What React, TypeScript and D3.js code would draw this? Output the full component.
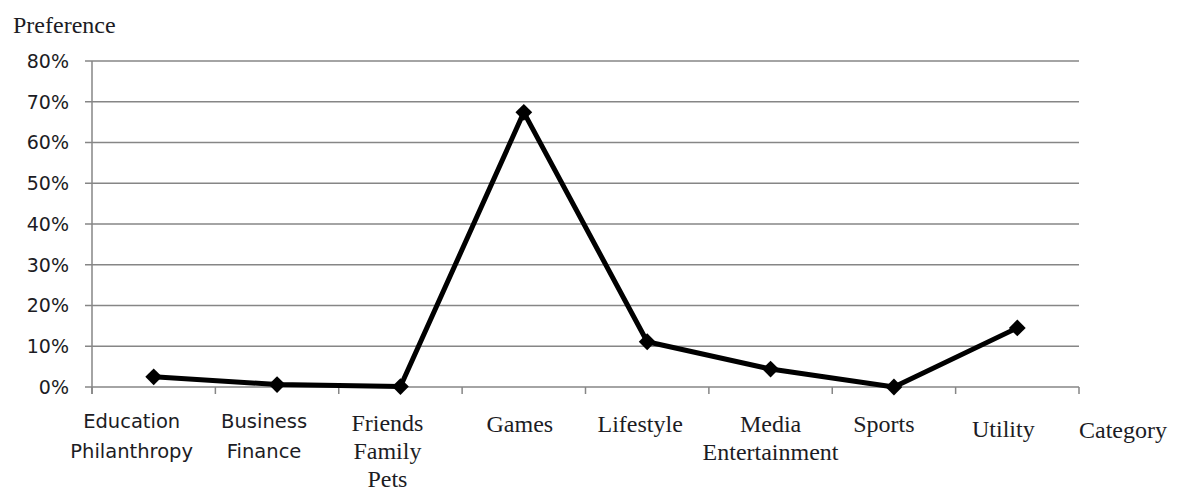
import React from "react";
import * as d3 from "d3";

const categories = [
  "Education Philanthropy",
  "Business Finance",
  "Friends Family Pets",
  "Games",
  "Lifestyle",
  "Media Entertainment",
  "Sports",
  "Utility",
];
const labelLines = [
  ["Education", "Philanthropy"],
  ["Business", "Finance"],
  ["Friends", "Family", "Pets"],
  ["Games"],
  ["Lifestyle"],
  ["Media", "Entertainment"],
  ["Sports"],
  ["Utility"],
];
const values = [2.5, 0.6, 0.1, 67.4, 11.1, 4.4, 0.0, 14.5];
const yTicks = [0, 10, 20, 30, 40, 50, 60, 70, 80];
const yTitle = "Preference";
const xTitle = "Category";

// layout / style (not data)
const W = 1181;
const H = 493;
const left = 92;
const right = 1079;
const top = 61;
const bottom = 387;
const sansLabel = [true, true, false, false, false, false, false, false];
const labelDx = [-22, -13, -13, -4, -7, 0, -10, -14];
const labelDy = [0, 0, -1, 0, 0, 0, 0, 5];

export default function App() {
  const x = d3.scaleBand<string>().domain(categories).range([left, right]);
  const y = d3.scaleLinear().domain([0, 80]).range([bottom, top]);
  const cx = (c: string) => (x(c) as number) + x.bandwidth() / 2;
  const line = d3
    .line<number>()
    .x((_, i) => cx(categories[i]))
    .y((v) => y(v));
  const diamond = d3.symbol().type(d3.symbolDiamond2).size(180)();
  const grid = "#868686";
  const textColor = "#1c1c24";
  const edges = categories.map((c) => x(c) as number).concat([right]);

  return (
    <svg
      width={W}
      height={H}
      style={{ position: "absolute", left: 0, top: 0, background: "#fff" }}
    >
      <rect x={0} y={0} width={W} height={H} fill="#fff" />
      {yTicks.map((t) => (
        <g key={t}>
          <line x1={left - 7} x2={right} y1={y(t)} y2={y(t)} stroke={grid} strokeWidth={1.5} />
          <text
            x={69}
            y={y(t)}
            dy="0.36em"
            textAnchor="end"
            fontFamily="DejaVu Sans"
            fontSize={19}
            fill={textColor}
          >
            {t}%
          </text>
        </g>
      ))}
      <line x1={left} x2={left} y1={top} y2={bottom + 7} stroke={grid} strokeWidth={1.5} />
      {edges.map((e, i) => (
        <line key={i} x1={e} x2={e} y1={bottom} y2={bottom + 7} stroke={grid} strokeWidth={1.5} />
      ))}
      <path
        d={line(values) || ""}
        fill="none"
        stroke="#000"
        strokeWidth={5}
        strokeLinejoin="round"
      />
      {values.map((v, i) => (
        <path
          key={i}
          d={diamond || ""}
          transform={`translate(${cx(categories[i])},${y(v)})`}
          fill="#000"
        />
      ))}
      {labelLines.map((lines, i) => (
        <text
          key={i}
          x={cx(categories[i]) + labelDx[i]}
          y={(sansLabel[i] ? 428 : 432) + labelDy[i]}
          textAnchor="middle"
          fontFamily={sansLabel[i] ? "DejaVu Sans" : "Liberation Serif"}
          fontSize={sansLabel[i] ? 19.5 : 24}
          fill={textColor}
        >
          {lines.map((l, j) => (
            <tspan key={j} x={cx(categories[i]) + labelDx[i]} dy={j === 0 ? 0 : sansLabel[i] ? 30 : 28}>
              {l}
            </tspan>
          ))}
        </text>
      ))}
      <text x={right} y={438} fontFamily="Liberation Serif" fontSize={24} fill={textColor}>
        {xTitle}
      </text>
      <text x={13} y={33} fontFamily="Liberation Serif" fontSize={24} fill={textColor}>
        {yTitle}
      </text>
    </svg>
  );
}
